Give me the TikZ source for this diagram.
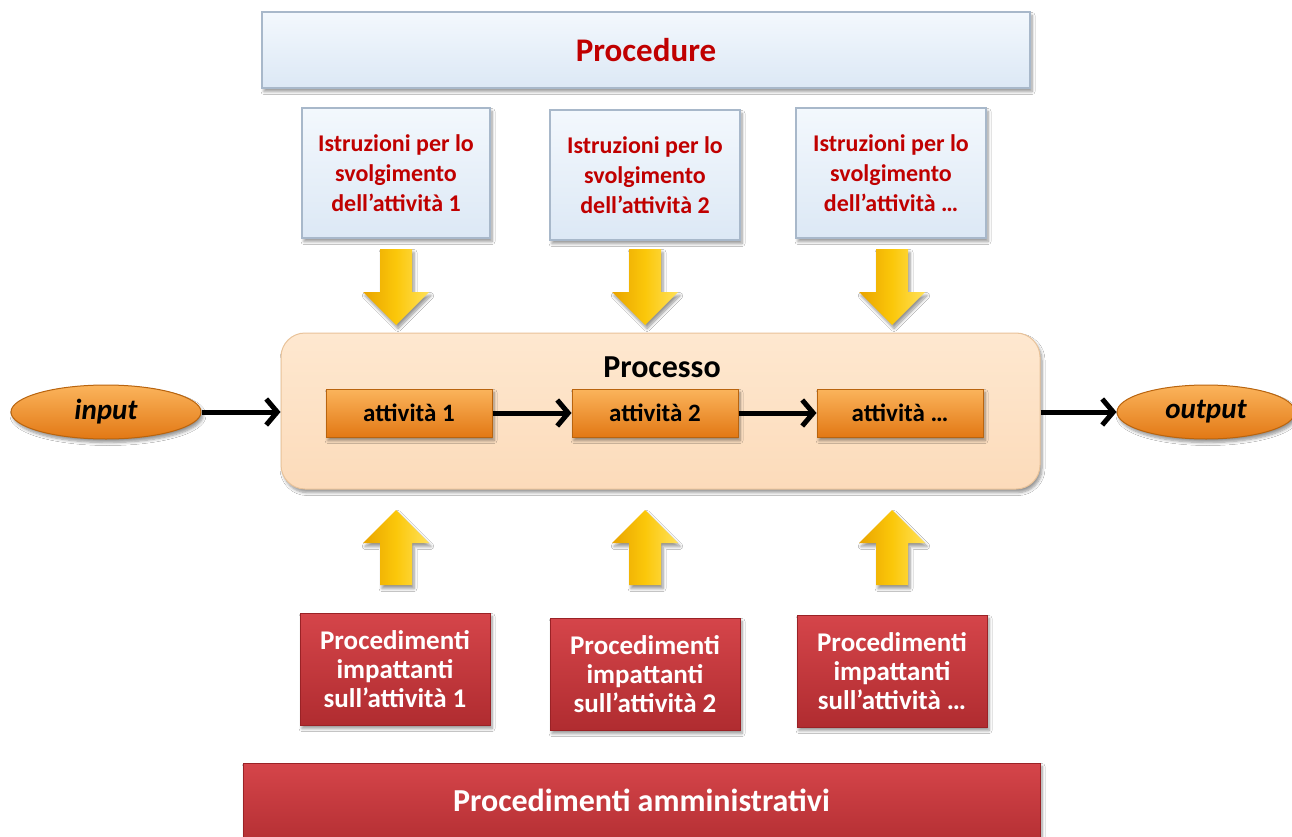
\documentclass[tikz,border=0pt]{standalone}
\usepackage{fontspec}
\setmainfont{Carlito}
\usetikzlibrary{arrows.meta,shadows.blur,shapes.geometric}

\definecolor{bluetop}{HTML}{F3F8FD}
\definecolor{bluebot}{HTML}{DCE8F5}
\definecolor{blueedge}{HTML}{A8B8CA}
\definecolor{deepred}{HTML}{C00000}
\definecolor{redtop}{HTML}{D5454A}
\definecolor{redbot}{HTML}{B02C30}
\definecolor{rededge}{HTML}{9A2226}
\definecolor{peachtop}{HTML}{FEE8D0}
\definecolor{peachbot}{HTML}{FCDBBA}
\definecolor{peachedge}{HTML}{E9C39A}
\definecolor{orangetop}{HTML}{FBB45C}
\definecolor{orangebot}{HTML}{E27814}
\definecolor{orangeedge}{HTML}{B9640E}
\definecolor{goldleft}{HTML}{E9A400}
\definecolor{goldmid}{HTML}{FBC70A}
\definecolor{goldright}{HTML}{FFE15A}

\newcommand{\fsz}[2]{\fontsize{#1}{#2}\selectfont}

% yellow block arrows pointing down / up (x centre, top y)
\newcommand{\blockdown}[2]{%
  \shade[goldarrow] (#1-16,#2) -- (#1+16,#2) -- (#1+16,#2+43) -- (#1+33,#2+43)
    -- (#1,#2+76) -- (#1-33,#2+43) -- (#1-16,#2+43) -- cycle;}
\newcommand{\blockup}[2]{%
  \shade[goldarrow] (#1,#2) -- (#1+33,#2+33) -- (#1+16,#2+33) -- (#1+16,#2+75)
    -- (#1-16,#2+75) -- (#1-16,#2+33) -- (#1-33,#2+33) -- cycle;}

\begin{document}
\begin{tikzpicture}[x=1pt,y=-1pt,
  softshadow/.style={blur shadow={shadow blur steps=6, shadow xshift=2pt,
      shadow yshift=-3.5pt, shadow opacity=42, shadow blur radius=3pt}},
  bluebox/.style={draw=blueedge, line width=1.2pt, top color=bluetop,
      bottom color=bluebot, softshadow, align=center, text=deepred,
      font=\bfseries\fsz{24}{30}},
  redbox/.style={draw=rededge, line width=1pt, top color=redtop,
      bottom color=redbot, softshadow, align=center, text=white,
      font=\bfseries\fsz{27}{29}},
  actbox/.style={draw=orangeedge, line width=1pt, top color=orangetop,
      bottom color=orangebot, softshadow, minimum width=166pt,
      minimum height=48pt, font=\bfseries\fsz{25}{27}},
  endpoint/.style={ellipse, draw=orangeedge, line width=1pt, top color=orangetop,
      bottom color=orangebot, softshadow, minimum height=54pt,
      font=\bfseries\itshape\fsz{29}{31}},
  conn/.style={line width=5pt, -{Straight Barb[length=11pt,width=26pt]}},
  goldarrow/.style={left color=goldleft, right color=goldright, middle color=goldmid,
      softshadow}
]
\useasboundingbox (0,0) rectangle (1292,837);
\fill[white] (0,0) rectangle (1292,837);

% procedures layer
\node[bluebox, minimum width=768pt, minimum height=76pt, font=\bfseries\fsz{33}{36}]
  (procedure) at (646,50) {Procedure};

\node[bluebox, minimum width=188pt, minimum height=130pt] (istr1) at (396,173)
  {Istruzioni per lo\\svolgimento\\dell’attività 1};
\node[bluebox, minimum width=190pt, minimum height=130pt] (istr2) at (645,175)
  {Istruzioni per lo\\svolgimento\\dell’attività 2};
\node[bluebox, minimum width=190pt, minimum height=130pt] (istr3) at (891,173)
  {Istruzioni per lo\\svolgimento\\dell’attività …};

\blockdown{396}{249}
\blockdown{645}{249}
\blockdown{892}{249}

% the process
\node[draw=peachedge, line width=1pt, rounded corners=24pt, top color=peachtop,
  bottom color=peachbot, softshadow, minimum width=759pt, minimum height=156pt]
  (process) at (660.5,411) {};
\node[font=\bfseries\fsz{32}{34}] (processlabel) at (662,367) {Processo};

\node[actbox] (a1) at (409,413) {attività 1};
\node[actbox] (a2) at (655,413) {attività 2};
\node[actbox] (a3) at (900,413) {attività …};

\node[endpoint, minimum width=190pt] (in) at (106,412) {input};
\node[endpoint, minimum width=178pt] (out) at (1206,412) {output};

\draw[conn] (in.east) -- (in.east -| process.west);
\draw[conn] (a1) -- (a2);
\draw[conn] (a2) -- (a3);
\draw[conn] (out.west -| process.east) -- (out.west);

% administrative proceedings layer
\blockup{396}{510}
\blockup{645}{510}
\blockup{892}{510}

\node[redbox, minimum width=190pt, minimum height=112pt] (proc1) at (395,669)
  {Procedimenti\\impattanti\\sull’attività 1};
\node[redbox, minimum width=190pt, minimum height=112pt] (proc2) at (645,674)
  {Procedimenti\\impattanti\\sull’attività 2};
\node[redbox, minimum width=190pt, minimum height=112pt] (proc3) at (892,671)
  {Procedimenti\\impattanti\\sull’attività …};

\node[redbox, minimum width=797pt, minimum height=90pt] (admin) at (641.5,808) {};
\node[text=white, font=\bfseries\fsz{32}{34}] (adminlabel) at (641.5,800)
  {Procedimenti amministrativi};
\end{tikzpicture}
\end{document}
